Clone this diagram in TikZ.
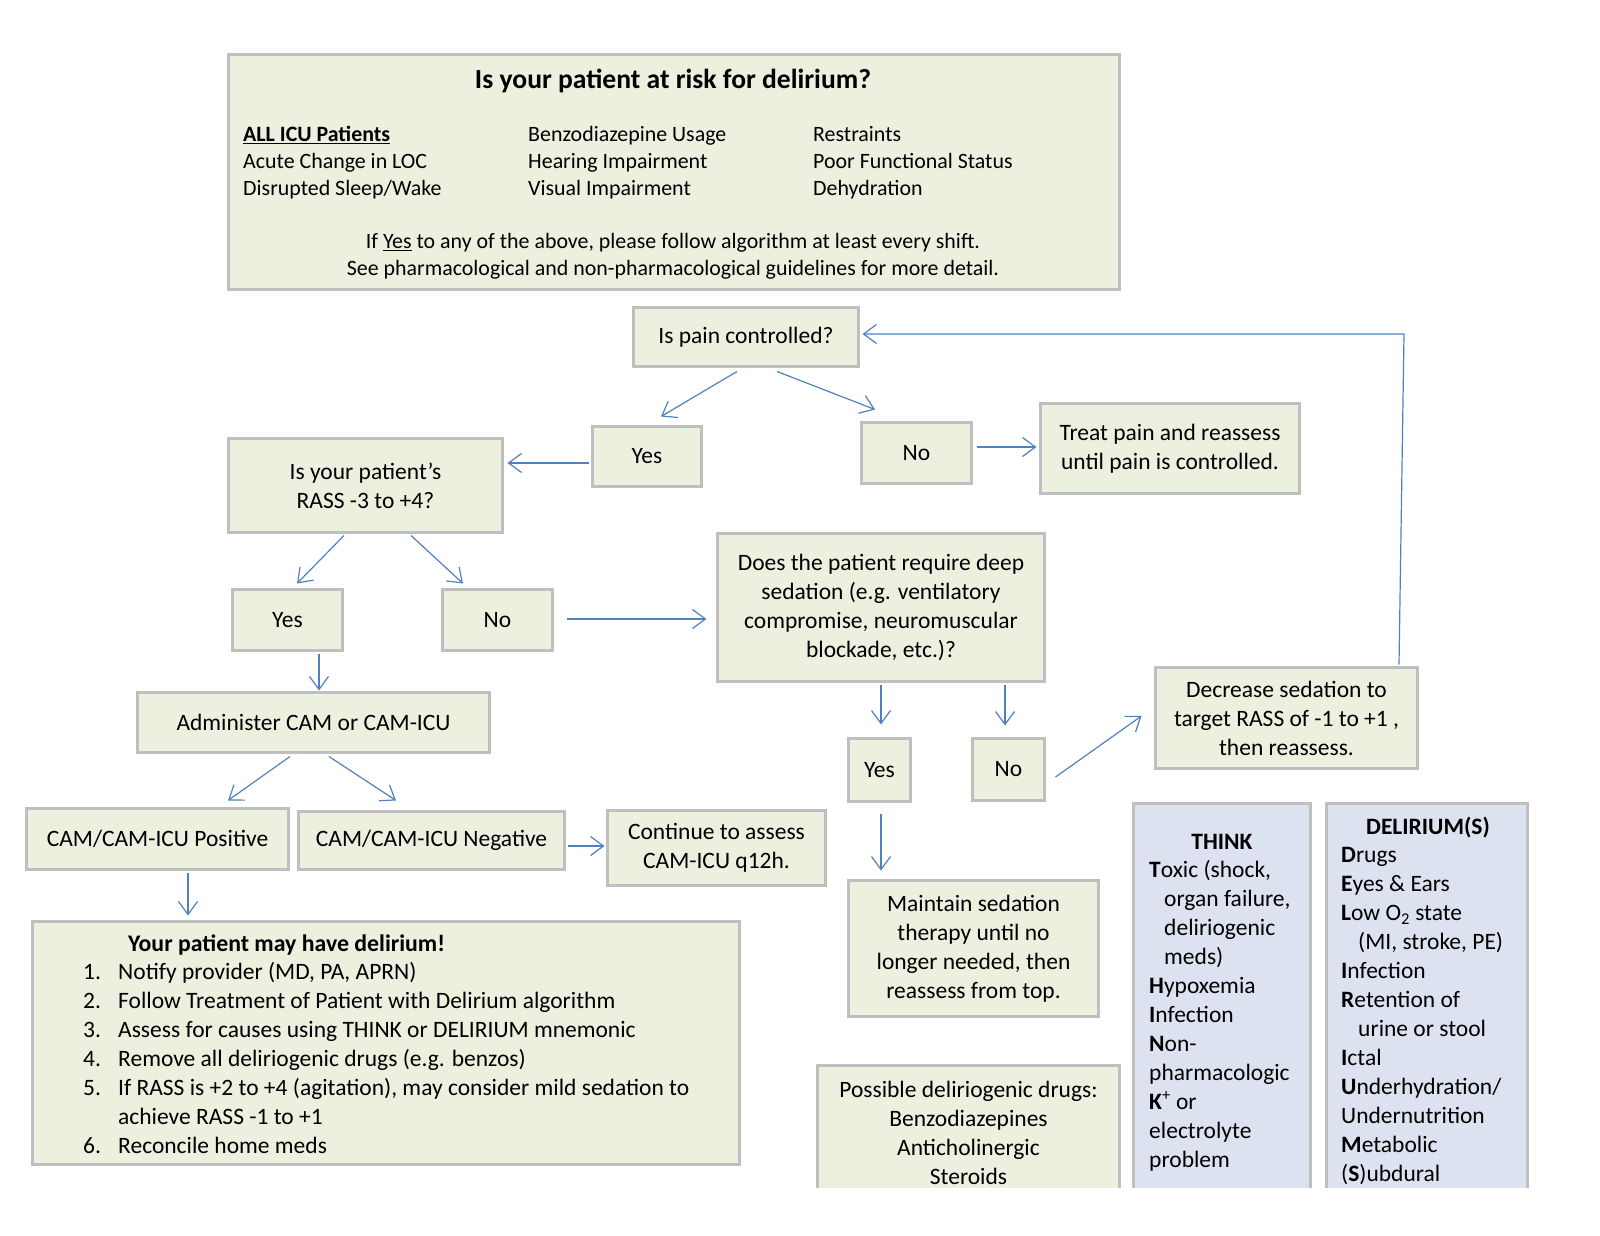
\documentclass[tikz,border=0pt]{standalone}
\usepackage{fontspec}
\setmainfont{Carlito}
\usetikzlibrary{arrows.meta}
\definecolor{boxfill}{HTML}{EBF1DE}
\definecolor{boxline}{HTML}{BFBFBF}
\definecolor{memofill}{HTML}{DCE2EF}
\definecolor{arrowblue}{HTML}{4F81BD}

\begin{document}
\begin{tikzpicture}[x=1pt, y=-1pt,
    font=\fontsize{23.5}{29}\selectfont,
    box/.style={draw=boxline, fill=boxfill, line width=3pt, align=center, inner sep=0pt},
    memo/.style={draw=boxline, fill=memofill, line width=3pt},
    flow/.style={draw=arrowblue, line width=1.2pt, -{Straight Barb[length=13pt,width=19pt]}},
    txt/.style={inner sep=0pt, align=left}]
    \useasboundingbox (0,0) rectangle (1600,1236);

    % Risk screen
    \node[box, minimum width=891pt, minimum height=235pt] (risk) at (674,172) {};
    \node[txt, font=\bfseries\fontsize{27.6}{32}\selectfont] (risktitle) at (673,81) {Is your patient at risk for delirium?};
    \node[txt, anchor=west, font=\fontsize{21.9}{27}\selectfont] (riskA) at (243,163) {\underline{\textbf{ALL ICU Patients}}\\Acute Change in LOC\\Disrupted Sleep/Wake};
    \node[txt, anchor=west, font=\fontsize{21.9}{27}\selectfont] (riskB) at (528,163) {Benzodiazepine Usage\\Hearing Impairment\\Visual Impairment};
    \node[txt, anchor=west, font=\fontsize{21.9}{27}\selectfont] (riskC) at (813,163) {Restraints\\Poor Functional Status\\Dehydration};
    \node[txt, align=center, font=\fontsize{21.9}{27}\selectfont] (risknote) at (673,256.5) {If \underline{Yes} to any of the above, please follow algorithm at least every shift.\\See pharmacological and non-pharmacological guidelines for more detail.};

    % Pain
    \node[box, minimum width=225pt, minimum height=59pt] (pain) at (746,337) {Is pain controlled?};
    \node[box, minimum width=109pt, minimum height=60pt] (yesA) at (647,456.5) {Yes};
    \node[box, minimum width=110pt, minimum height=61pt] (noA) at (916.5,453) {No};
    \node[box, minimum width=259pt, minimum height=90pt] (treat) at (1170,448.5) {Treat pain and reassess\\until pain is controlled.};

    % RASS
    \node[box, minimum width=274pt, minimum height=94pt] (rass) at (365.5,485.5) {Is your patient’s\\RASS -3 to +4?};
    \node[box, minimum width=110pt, minimum height=61pt] (yesB) at (287.5,620) {Yes};
    \node[box, minimum width=110pt, minimum height=61pt] (noB) at (497.5,620) {No};

    % Deep sedation
    \node[box, minimum width=327pt, minimum height=148pt] (deep) at (881,607.5) {Does the patient require deep\\sedation (e.g. ventilatory\\compromise, neuromuscular\\blockade, etc.)?};
    \node[box, minimum width=62pt, minimum height=63pt] (yesC) at (879.5,770) {Yes};
    \node[box, minimum width=72pt, minimum height=62pt] (noC) at (1008.5,769.5) {No};
    \node[box, minimum width=262pt, minimum height=101pt] (decr) at (1286.5,718) {Decrease sedation to\\target RASS of -1 to +1 ,\\then reassess.};
    \node[box, minimum width=250pt, minimum height=136pt] (maint) at (973.5,948.5) {Maintain sedation\\therapy until no\\longer needed, then\\reassess from top.};

    % CAM
    \node[box, minimum width=352pt, minimum height=60pt] (cam) at (313.5,722.5) {Administer CAM or CAM-ICU};
    \node[box, minimum width=262pt, minimum height=61pt] (pos) at (157.5,839) {CAM/CAM-ICU Positive};
    \node[box, minimum width=266pt, minimum height=58pt] (neg) at (431.5,840.5) {CAM/CAM-ICU Negative};
    \node[box, minimum width=218pt, minimum height=75pt] (cont) at (716.5,848) {Continue to assess\\CAM-ICU q12h.};

    % Delirium actions
    \node[box, minimum width=707pt, minimum height=243pt] (deli) at (386,1043) {};
    \node[txt, anchor=west, font=\bfseries\fontsize{23.8}{29}\selectfont] (delititle) at (128,945) {Your patient may have delirium!};
    \node[txt, anchor=west] (delilist) at (83,1061) {\begin{tabular}{@{}p{35pt}@{}l@{}}
        1. & Notify provider (MD, PA, APRN)\\
        2. & Follow Treatment of Patient with Delirium algorithm\\
        3. & Assess for causes using THINK or DELIRIUM mnemonic\\
        4. & Remove all deliriogenic drugs (e.g. benzos)\\
        5. & If RASS is +2 to +4 (agitation), may consider mild sedation to\\
           & achieve RASS -1 to +1\\
        6. & Reconcile home meds
    \end{tabular}};

    % Cut-off boxes at the bottom
    \begin{scope}
        \clip (0,0) rectangle (1600,1187);
        \draw[box] (817.5,1065.5) rectangle (1119.5,1240);
        \draw[memo] (1133.5,803.5) rectangle (1310.5,1240);
        \draw[memo] (1326.5,803.5) rectangle (1527.5,1240);
    \end{scope}
    \node[txt, align=center] (drugs) at (968.5,1132.5) {Possible deliriogenic drugs:\\Benzodiazepines\\Anticholinergic\\Steroids};
    \node[txt, font=\bfseries\fontsize{23.5}{29}\selectfont] (thinktitle) at (1222,842) {THINK};
    \node[txt, anchor=west] (thinklist) at (1149,1016) {\textbf{T}oxic (shock,\\\hspace*{15pt}organ failure,\\\hspace*{15pt}deliriogenic\\\hspace*{15pt}meds)\\\textbf{H}ypoxemia\\\textbf{I}nfection\\\textbf{N}on-\\pharmacologic\\\textbf{K}\textsuperscript{+} or\\electrolyte\\problem};
    \node[txt, font=\bfseries\fontsize{23.5}{29}\selectfont] (delirtitle) at (1428,828) {DELIRIUM(S)};
    \node[txt, anchor=west] (delirlist) at (1341,1016) {\textbf{D}rugs\\\textbf{E}yes \& Ears\\\textbf{L}ow O\textsubscript{2} state\\\hspace*{17pt}(MI, stroke, PE)\\\textbf{I}nfection\\\textbf{R}etention of\\\hspace*{17pt}urine or stool\\\textbf{I}ctal\\\textbf{U}nderhydration/\\Undernutrition\\\textbf{M}etabolic\\(\textbf{S})ubdural};

    % Arrows
    \draw[flow] ([xshift=-9pt,yshift=-3.5pt]pain.south) -- ([xshift=14pt,yshift=8.5pt]yesA.north);
    \draw[flow] ([xshift=31pt,yshift=-3.5pt]pain.south) -- ([xshift=-41.5pt,yshift=11.5pt]noA.north);
    \draw[flow] ([xshift=-2pt,yshift=-6.5pt]yesA.west) -- ([xshift=3.5pt,yshift=22.5pt]rass.east);
    \draw[flow] ([xshift=3.5pt,yshift=6pt]noA.east) -- ([xshift=-2.5pt,yshift=1.5pt]treat.west);
    \draw[flow] ([xshift=-21.5pt,yshift=-1.5pt]rass.south) -- ([xshift=9.5pt,yshift=4.5pt]yesB.north);
    \draw[flow] ([xshift=45.5pt,yshift=-1.5pt]rass.south) -- ([xshift=-34.5pt,yshift=4.5pt]noB.north);
    \draw[flow] ([xshift=12.5pt,yshift=1pt]noB.east) -- ([xshift=-9.5pt,yshift=-11.5pt]deep.west);
    \draw[flow] ([xshift=31.5pt,yshift=-1.5pt]yesB.south) -- ([xshift=5.5pt,yshift=0.5pt]cam.north);
    \draw[flow] ([xshift=-23.5pt,yshift=-2.5pt]cam.south) -- ([xshift=70.5pt,yshift=6.5pt]pos.north);
    \draw[flow] ([xshift=15.5pt,yshift=-2.5pt]cam.south) -- ([xshift=-35.5pt,yshift=9.5pt]neg.north);
    \draw[flow] ([xshift=30.5pt,yshift=-1.5pt]pos.south) -- ([xshift=-198pt,yshift=4.5pt]deli.north);
    \draw[flow] ([xshift=1.5pt,yshift=-5.5pt]neg.east) -- ([xshift=-1.5pt,yshift=2pt]cont.west);
    \draw[flow] ([yshift=-1.5pt]deep.south) -- ([xshift=1.5pt,yshift=12.5pt]yesC.north);
    \draw[flow] ([xshift=124pt,yshift=-1.5pt]deep.south) -- ([xshift=-3.5pt,yshift=11.5pt]noC.north);
    \draw[flow] ([xshift=1.5pt,yshift=-10.5pt]yesC.south) -- ([xshift=-92.5pt,yshift=8.5pt]maint.north);
    \draw[flow] ([xshift=9.5pt,yshift=-7.5pt]noC.east) -- ([xshift=-12.5pt,yshift=2pt]decr.west);
    % Loop back to the top
    \coordinate (loop) at (1404,334);
    \draw[flow] ([xshift=112.5pt,yshift=1.5pt]decr.north) -- (loop) -- ([xshift=2.5pt,yshift=3pt]pain.east);
\end{tikzpicture}
\end{document}
